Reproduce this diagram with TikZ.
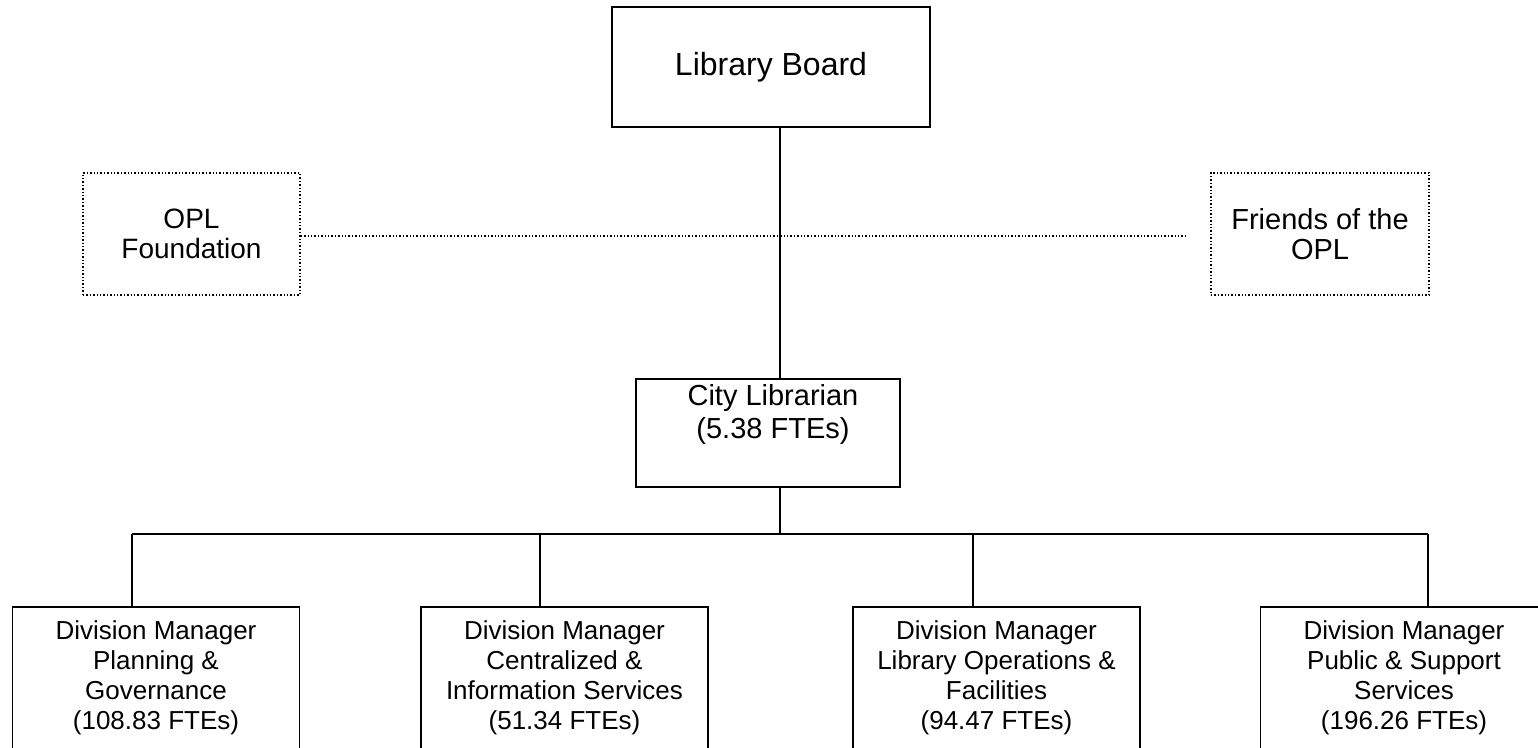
\documentclass[tikz,border=0pt]{standalone}
\usepackage{fontspec}
\setmainfont{Liberation Sans}
\usepackage{tikz}
\usetikzlibrary{calc}

\tikzset{
	unitbox/.style={draw, line width=1.6pt, align=center, inner sep=0pt},
	linkbox/.style={draw, line width=1.4pt, dotted, align=center, inner sep=0pt},
	divbox/.style={unitbox, anchor=north, minimum width=287pt, minimum height=142pt,
		font=\fontsize{26}{30}\selectfont},
	wire/.style={line width=1.3pt}
}

\begin{document}
\begin{tikzpicture}[x=1pt, y=-1pt]
		\clip (0,0) rectangle (1538,747);
		\useasboundingbox (0,0) rectangle (1538,747);

		% top of the chart
		\node[unitbox, minimum width=318pt, minimum height=120pt,
			font=\fontsize{32}{36}\selectfont] (board) at (771,67) {Library Board};
		\node[linkbox, minimum width=217pt, minimum height=122pt,
			font=\fontsize{28}{30}\selectfont] (opl) at (191.5,234) {OPL\\Foundation};
		\node[linkbox, minimum width=218pt, minimum height=122pt,
			font=\fontsize{29}{30}\selectfont] (friends) at (1320,234) {Friends of the\\OPL};

		\node[unitbox, anchor=north, minimum width=264pt, minimum height=108pt] (city) at (768,378) {};
		\node[anchor=north, align=center, font=\fontsize{29}{33}\selectfont] (citytext)
			at ([xshift=5pt, yshift=-3pt]city.north) {City Librarian\\(5.38 FTEs)};

		% divisions
		\node[divbox] (plan) at (156,606) {Division Manager\\Planning \&\\Governance\\(108.83 FTEs)};
		\node[divbox] (central) at (564.5,606) {Division Manager\\Centralized \&\\Information Services\\(51.34 FTEs)};
		\node[divbox] (ops) at (996.5,606) {Division Manager\\Library Operations \&\\Facilities\\(94.47 FTEs)};
		\node[divbox] (public) at (1404,606) {Division Manager\\Public \& Support\\Services\\(196.26 FTEs)};

		% connectors
		\draw[wire] (board.south -| 780,0) -- (city.north -| 780,0);
		\draw[line width=1.4pt, dotted] (opl.east |- 0,236) -- ([xshift=-24pt]friends.west |- 0,236);

		\coordinate (bus) at (780,534);
		\coordinate (d1) at (132,534);
		\coordinate (d2) at (540,534);
		\coordinate (d3) at (973,534);
		\coordinate (d4) at (1428,534);
		\draw[wire] (city.south -| bus) -- (bus);
		\draw[wire] (d1) -- (d4);
		\foreach \d/\b in {d1/plan, d2/central, d3/ops, d4/public}
			\draw[wire] (\d) -- (\d |- \b.north);
	\end{tikzpicture}
\end{document}
